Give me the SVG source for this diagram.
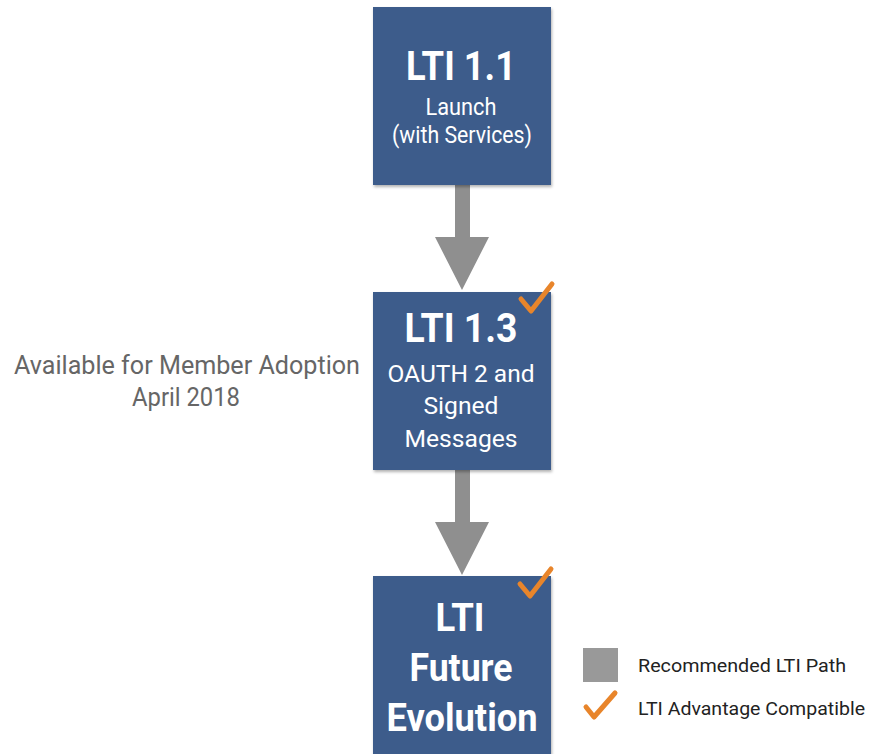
<svg xmlns="http://www.w3.org/2000/svg" width="870" height="754" viewBox="0 0 870 754">
<style>
.box{fill:#3E5B8B;}
.t{font-family:Roboto,"Liberation Sans",sans-serif;fill:#fff;text-anchor:middle;}
.b{font-weight:bold;}
.chk{fill:none;stroke:#E8852B;stroke-width:5;stroke-linecap:round;stroke-linejoin:round;}
.arr{fill:#8F8F8F;}
.g{font-family:Roboto,"Liberation Sans",sans-serif;fill:#666;}
.lg{font-family:Roboto,"Liberation Sans",sans-serif;fill:#222;font-size:19px;}
</style>
<defs>
<filter id="sh" x="-10%" y="-10%" width="120%" height="120%">
<feDropShadow dx="1" dy="2" stdDeviation="1.5" flood-color="#000" flood-opacity="0.3"/>
</filter>
</defs>
<rect width="870" height="754" fill="#fff"/>
<g id="connectors">
<polygon class="arr" points="455,185 470,185 470,237 489,237 462,290 435,237 455,237"/>
<polygon class="arr" points="455,470 470,470 470,522 489,522 462,575 435,522 455,522"/>
</g>
<g id="node-lti11">
<rect class="box" x="373" y="7" width="178" height="178" filter="url(#sh)"/>
<text class="t b" x="461" y="80" font-size="40" textLength="110" lengthAdjust="spacingAndGlyphs">LTI 1.1</text>
<text class="t" x="461" y="115" font-size="23" textLength="71" lengthAdjust="spacingAndGlyphs">Launch</text>
<text class="t" x="462" y="143" font-size="23" textLength="140" lengthAdjust="spacingAndGlyphs">(with Services)</text>
</g>
<g id="node-lti13">
<rect class="box" x="373" y="292" width="178" height="178" filter="url(#sh)"/>
<text class="t b" x="461" y="342" font-size="40" textLength="113" lengthAdjust="spacingAndGlyphs">LTI 1.3</text>
<text class="t" x="461" y="382" font-size="24" textLength="147" lengthAdjust="spacingAndGlyphs">OAUTH 2 and</text>
<text class="t" x="461" y="414" font-size="24" textLength="75" lengthAdjust="spacingAndGlyphs">Signed</text>
<text class="t" x="461" y="447" font-size="24" textLength="113" lengthAdjust="spacingAndGlyphs">Messages</text>
<polyline class="chk" points="521,299 531,311 552,284"/>
</g>
<g id="node-future">
<rect class="box" x="373" y="576" width="178" height="190" filter="url(#sh)"/>
<text class="t b" x="460" y="631" font-size="39" textLength="49" lengthAdjust="spacingAndGlyphs">LTI</text>
<text class="t b" x="461" y="681" font-size="39" textLength="103" lengthAdjust="spacingAndGlyphs">Future</text>
<text class="t b" x="462" y="731" font-size="39" textLength="151" lengthAdjust="spacingAndGlyphs">Evolution</text>
<polyline class="chk" points="520,584 530,596 551,569"/>
</g>
<g id="note">
<text class="g" x="187" y="374" font-size="26" text-anchor="middle" textLength="346" lengthAdjust="spacingAndGlyphs">Available for Member Adoption</text>
<text class="g" x="186" y="406" font-size="26" text-anchor="middle" textLength="108" lengthAdjust="spacingAndGlyphs">April 2018</text>
</g>
<g id="legend">
<rect x="583" y="648" width="35" height="34" fill="#999"/>
<text class="lg" x="638" y="672" textLength="208" lengthAdjust="spacingAndGlyphs">Recommended LTI Path</text>
<polyline class="chk" points="586,707 594,717 615,693"/>
<text class="lg" x="638" y="715" textLength="227" lengthAdjust="spacingAndGlyphs">LTI Advantage Compatible</text>
</g>
</svg>
